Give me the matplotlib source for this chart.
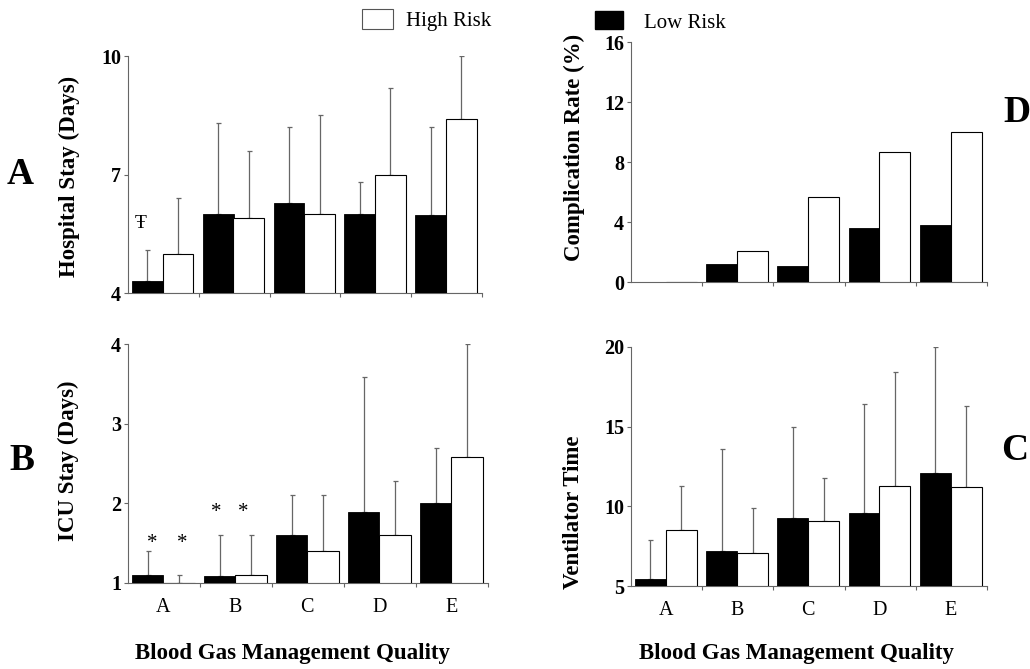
import matplotlib.pyplot as plt
from matplotlib.patches import Patch

plt.rcParams["font.family"] = ["Liberation Serif", "DejaVu Serif"]

groups = ["A", "B", "C", "D", "E"]

# Hospital stay (days): means and upper error bar ends
hosp_low = [4.3, 6.0, 6.28, 6.0, 5.98]
hosp_low_err = [5.1, 8.3, 8.2, 6.8, 8.2]
hosp_high = [5.0, 5.9, 6.0, 7.0, 8.4]
hosp_high_err = [6.4, 7.6, 8.5, 9.2, 10.0]

# Complication rate (%)
comp_low = [0.0, 1.2, 1.05, 3.6, 3.8]
comp_high = [0.0, 2.05, 5.7, 8.65, 10.0]

# ICU stay (days)
icu_low = [1.1, 1.09, 1.6, 1.89, 2.0]
icu_low_err = [1.4, 1.6, 2.1, 3.58, 2.7]
icu_high = [1.0, 1.1, 1.4, 1.6, 2.58]
icu_high_err = [1.1, 1.6, 2.1, 2.28, 4.0]

# Ventilator time
vent_low = [5.42, 7.18, 9.29, 9.56, 12.1]
vent_low_err = [7.9, 13.6, 15.0, 16.44, 20.0]
vent_high = [8.54, 7.07, 9.06, 11.28, 11.23]
vent_high_err = [11.3, 9.9, 11.78, 18.43, 16.28]

W, H = 1030, 669
fig = plt.figure(figsize=(W / 100, H / 100), dpi=100)


def px_axes(left, right, top, bottom):
    return fig.add_axes([left / W, 1 - bottom / H, (right - left) / W, (bottom - top) / H])


def bar_panel(ax, low, high, ymin, ymax, yticks, low_err=None, high_err=None, show_cats=False):
    xs = range(len(groups))
    xl = [i + 0.056 for i in xs]
    xh = [i + 0.49 for i in xs]
    w = 0.435
    ax.bar(xl, [v - ymin for v in low], width=w, bottom=ymin, align="edge",
           color="black", edgecolor="black", linewidth=0.6, zorder=3)
    ax.bar(xh, [v - ymin for v in high], width=w, bottom=ymin, align="edge",
           color="white", edgecolor="black", linewidth=0.8, zorder=3)
    if low_err is not None:
        for x, v, e in zip(xl, low, low_err):
            ax.errorbar(x + w / 2, v, yerr=[[0], [e - v]], fmt="none", ecolor="#666666",
                        elinewidth=0.9, capsize=1.8, capthick=0.9, zorder=2)
        for x, v, e in zip(xh, high, high_err):
            ax.errorbar(x + w / 2, v, yerr=[[0], [e - v]], fmt="none", ecolor="#666666",
                        elinewidth=0.9, capsize=1.8, capthick=0.9, zorder=2)
    ax.set_xlim(0, len(groups))
    ax.set_ylim(ymin, ymax)
    ax.set_yticks(yticks)
    ax.set_yticklabels([str(t) for t in yticks], fontsize=14.5, fontweight="bold")
    for s in ["top", "right"]:
        ax.spines[s].set_visible(False)
    for s in ["left", "bottom"]:
        ax.spines[s].set_color("#666666")
        ax.spines[s].set_linewidth(0.8)
    ax.tick_params(axis="y", length=3, width=0.8, color="#666666", pad=2)
    ax.set_xticks(range(1, len(groups) + 1), minor=True)
    ax.tick_params(axis="x", which="minor", length=3, width=0.8, color="#666666")
    ax.set_xticks([i + 0.49 for i in xs])
    if show_cats:
        ax.set_xticklabels(groups, fontsize=14.5)
        ax.tick_params(axis="x", which="major", length=0, pad=11)
    else:
        ax.set_xticklabels([])
        ax.tick_params(axis="x", which="major", length=0)


# Panel A: hospital stay
axA = px_axes(128, 482, 56, 293)
bar_panel(axA, hosp_low, hosp_high, 4, 10, [4, 7, 10], hosp_low_err, hosp_high_err)
axA.set_ylabel("Hospital Stay (Days)", fontsize=16.5, fontweight="bold")
axA.yaxis.set_label_coords(-0.136, 0.49)
axA.text(0.18, 5.75, "Ŧ", fontsize=14, ha="center", va="center")

# Panel D: complication rate
axD = px_axes(631, 987, 42, 282)
bar_panel(axD, comp_low, comp_high, 0, 16, [0, 4, 8, 12, 16])
axD.set_ylabel("Complication Rate (%)", fontsize=16.5, fontweight="bold")
axD.yaxis.set_label_coords(-0.129, 0.56)

# Panel B: ICU stay
axB = px_axes(128, 488, 344, 583)
bar_panel(axB, icu_low, icu_high, 1, 4, [1, 2, 3, 4], icu_low_err, icu_high_err, show_cats=True)
axB.set_ylabel("ICU Stay (Days)", fontsize=16.5, fontweight="bold")
axB.yaxis.set_label_coords(-0.136, 0.51)
for x, y in [(0.33, 1.5), (0.75, 1.5), (1.22, 1.89), (1.6, 1.89)]:
    axB.text(x, y, "*", fontsize=15, ha="center", va="center")
axB.set_xlabel("Blood Gas Management Quality", fontsize=16.5, fontweight="bold")
axB.xaxis.set_label_coords(0.458, -0.251)

# Panel C: ventilator time
axC = px_axes(631, 987, 347, 586)
bar_panel(axC, vent_low, vent_high, 5, 20, [5, 10, 15, 20], vent_low_err, vent_high_err, show_cats=True)
axC.set_ylabel("Ventilator Time", fontsize=16.5, fontweight="bold")
axC.yaxis.set_label_coords(-0.132, 0.31)
axC.set_xlabel("Blood Gas Management Quality", fontsize=16.5, fontweight="bold")
axC.xaxis.set_label_coords(0.466, -0.238)

# panel letters
fig.text(20 / W, 1 - 175 / H, "A", fontsize=27, fontweight="bold", ha="center", va="center")
fig.text(22 / W, 1 - 460 / H, "B", fontsize=27, fontweight="bold", ha="center", va="center")
fig.text(1017 / W, 1 - 112 / H, "D", fontsize=27, fontweight="bold", ha="center", va="center")
fig.text(1015 / W, 1 - 450 / H, "C", fontsize=27, fontweight="bold", ha="center", va="center")

# legends
fig.legend(handles=[Patch(facecolor="white", edgecolor="#555555", linewidth=0.8, label="High Risk")],
           loc="center left", bbox_to_anchor=(343 / W, 1 - 20 / H), frameon=False,
           fontsize=15, handlelength=1.5, handleheight=1.15, handletextpad=0.6)
fig.legend(handles=[Patch(facecolor="black", edgecolor="black", label="Low Risk")],
           loc="center left", bbox_to_anchor=(576 / W, 1 - 22 / H), frameon=False,
           fontsize=15, handlelength=1.35, handleheight=0.95, handletextpad=1.0)

fig.savefig("out.png", dpi=100)
